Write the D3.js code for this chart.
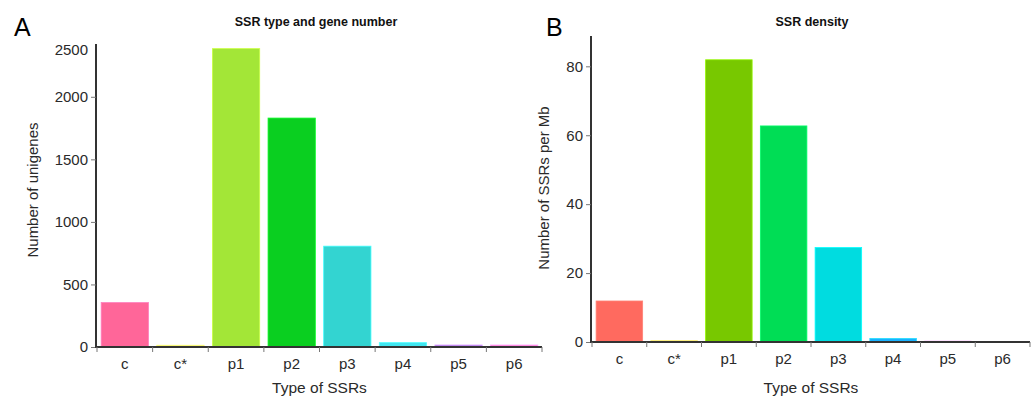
<!DOCTYPE html>
<html>
<head>
<meta charset="utf-8">
<script src="https://cdn.jsdelivr.net/npm/d3@7"></script>
<style>
  body { margin: 0; background: #fff; }
  text { font-family: "Liberation Sans", Arial, sans-serif; }
</style>
</head>
<body>
<script>
const categories = ["c", "c*", "p1", "p2", "p3", "p4", "p5", "p6"];
const geneNumber = [355, 14, 2385, 1830, 806, 35, 16, 16];
const ssrDensity = [11.9, 0.4, 81.9, 62.7, 27.4, 1.0, 0.3, 0.05];
const ticksA = [0, 500, 1000, 1500, 2000, 2500];
const ticksB = [0, 20, 40, 60, 80];
const colorsA = ["#ff6699", "#e6e05c", "#a3e637", "#0acf20", "#33d4d1", "#40e6f0", "#b07fe6", "#ff80d0"];
const colorsB = ["#ff6a5f", "#e6c35c", "#78c800", "#00dd55", "#00dce0", "#1ab2ff", "#e6a0f0", "#ff80d0"];

const svg = d3.select("body")
  .append("svg")
  .attr("width", 1035)
  .attr("height", 396);

function panel(opts) {
  const g = svg.append("g");

  const x = d3.scaleBand()
    .domain(categories)
    .range([opts.x0, opts.x1])
    .paddingInner(0.15)
    .paddingOuter(0.075);

  const y = d3.scaleLinear()
    .domain([0, opts.ymax])
    .range([opts.y0, opts.y1])
    .clamp(true);

  // bars
  g.selectAll(".bar")
    .data(opts.values)
    .enter().append("rect")
    .attr("x", (d, i) => x(categories[i]))
    .attr("y", d => y(d))
    .attr("width", x.bandwidth())
    .attr("height", d => Math.max(0, opts.y0 - y(d)))
    .attr("fill", (d, i) => opts.colors[i])
    .attr("stroke", (d, i) => d3.color(opts.colors[i]).brighter(0.6))
    .attr("stroke-width", 0.8);

  // y axis
  const ya = g.append("g")
    .attr("transform", `translate(${opts.x0 - 1},0)`)
    .call(d3.axisLeft(y).tickValues(opts.ticks).tickSize(5).tickPadding(3).tickFormat(d3.format("d")));
  ya.select(".domain").attr("stroke", "#333").attr("stroke-width", 2)
    .attr("d", `M0,${opts.y1}V${opts.y0 + 1}`);
  ya.selectAll(".tick line").attr("stroke", "#777");
  ya.selectAll(".tick text").attr("fill", "#2a2a2a").style("font-size", "15px");
  ya.selectAll(".tick").filter(d => d > opts.ymax).select("line").remove();
  ya.selectAll(".tick").filter(d => d > opts.ymax).select("text").attr("dy", "0.72em");

  // x axis: ticks at band boundaries
  const bounds = categories.map(c => x(c) - x.step() * x.paddingInner() / 2).concat([opts.x1]);
  const xa = g.append("g").attr("transform", `translate(0,${opts.y0})`);
  xa.append("path")
    .attr("d", `M${opts.x0 - 2},0H${opts.x1}`)
    .attr("stroke", "#333").attr("stroke-width", 2).attr("fill", "none");
  xa.selectAll(".xt")
    .data(bounds)
    .enter().append("line")
    .attr("x1", d => d).attr("x2", d => d)
    .attr("y1", 0).attr("y2", 5)
    .attr("stroke", "#777");
  xa.selectAll(".xl")
    .data(categories)
    .enter().append("text")
    .attr("x", d => x(d) + x.bandwidth() / 2)
    .attr("y", 22)
    .attr("text-anchor", "middle")
    .attr("fill", "#2a2a2a")
    .style("font-size", "15px")
    .text(d => d);

  // axis titles
  g.append("text")
    .attr("x", (opts.x0 + opts.x1) / 2)
    .attr("y", 393)
    .attr("text-anchor", "middle")
    .attr("fill", "#2a2a2a")
    .style("font-size", "15.5px")
    .text("Type of SSRs");

  g.append("text")
    .attr("transform", `translate(${opts.ytx},${opts.yty}) rotate(-90)`)
    .attr("text-anchor", "middle")
    .attr("fill", "#2a2a2a")
    .style("font-size", "15px")
    .text(opts.ytitle);

  g.append("text")
    .attr("x", opts.titleX)
    .attr("y", 26)
    .attr("text-anchor", "middle")
    .attr("fill", "#111")
    .style("font-size", "12.5px")
    .style("font-weight", "bold")
    .text(opts.title);

  g.append("text")
    .attr("x", opts.letterX)
    .attr("y", 36)
    .attr("fill", "#000")
    .style("font-size", "25px")
    .text(opts.letter);
}

panel({
  x0: 97, x1: 542, y0: 347, y1: 44, ymax: 2422,
  values: geneNumber, colors: colorsA, ticks: ticksA,
  ytitle: "Number of unigenes", ytx: 38, yty: 190,
  title: "SSR type and gene number", titleX: 316,
  letter: "A", letterX: 14
});

panel({
  x0: 592, x1: 1030, y0: 342, y1: 36, ymax: 88.8,
  values: ssrDensity, colors: colorsB, ticks: ticksB,
  ytitle: "Number of SSRs per Mb", ytx: 549, yty: 188,
  title: "SSR density", titleX: 812,
  letter: "B", letterX: 546
});
</script>
</body>
</html>
